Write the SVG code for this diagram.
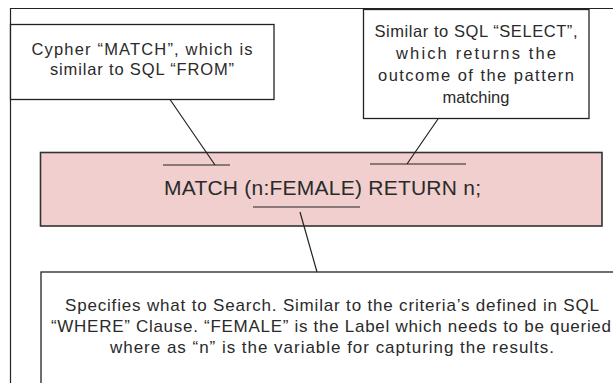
<svg xmlns="http://www.w3.org/2000/svg" width="613" height="383" viewBox="0 0 613 383">
<style>
.box{fill:#fff;stroke:#222;stroke-width:1.3}
.main{fill:#f0cfce;stroke:#333;stroke-width:1.6}
.t{font-family:"Liberation Sans",Arial,sans-serif;fill:#2a2a2a;text-anchor:middle}
.s{font-size:16.5px}
.m{font-size:21px}
.b{font-size:17px}
.ln{stroke:#222;stroke-width:1.2;fill:none}
</style>
<rect width="613" height="383" fill="#fff"/>
<g id="frame"><path class="ln" d="M10.5,390 V8.5 H620"/></g>
<g id="note-match">
<rect class="box" x="10.5" y="24.5" width="263.5" height="75"/>
<text class="t s" x="142" y="55" textLength="221">Cypher “MATCH”, which is</text>
<text class="t s" x="142" y="75" textLength="184">similar to SQL “FROM”</text>
</g>
<g id="note-return">
<rect class="box" x="363.5" y="9.5" width="225.5" height="109"/>
<text class="t s" x="476" y="37" textLength="203">Similar to SQL “SELECT”,</text>
<text class="t s" x="476" y="59" textLength="160">which returns the</text>
<text class="t s" x="476" y="81" textLength="196">outcome of the pattern</text>
<text class="t s" x="476" y="103">matching</text>
</g>
<g id="query">
<rect class="main" x="40.5" y="152.5" width="561.5" height="73.5"/>
<text class="t m" x="322.5" y="195" textLength="317">MATCH (n:FEMALE) RETURN n;</text>
</g>
<g id="note-where">
<rect class="box" x="41" y="272" width="600" height="200"/>
<text class="t b" x="332" y="311" textLength="534">Specifies what to Search. Similar to the criteria’s defined in SQL</text>
<text class="t b" x="331" y="332" textLength="560">“WHERE” Clause. “FEMALE” is the Label which needs to be queried</text>
<text class="t b" x="332" y="353" textLength="444">where as “n” is the variable for capturing the results.</text>
</g>
<g id="connectors">
<path class="ln" d="M163,165 H230 M170,99.5 L215,165"/>
<path class="ln" d="M370,164 H466 M438,119 L407,164"/>
<path class="ln" d="M253,207 H360 M300,212 L317,272"/>
</g>
</svg>
